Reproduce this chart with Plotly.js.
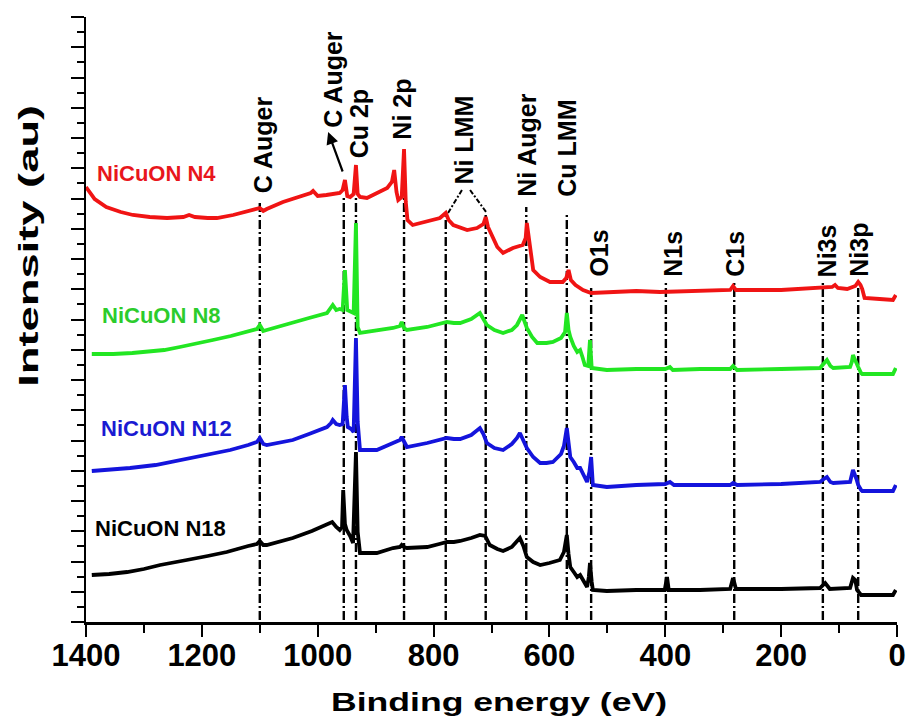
<!DOCTYPE html>
<html>
<head>
<meta charset="utf-8">
<title>XPS survey spectra of NiCuON films</title>
<script src="https://cdn.plot.ly/plotly-3.0.1.min.js"></script>
<style>
  html, body { margin: 0; padding: 0; background: #fff; }
  #chart { width: 910px; height: 720px; }
</style>
</head>
<body>
<div id="chart"></div>
<script>
// ---- Survey spectra: binding energy (eV) and stacked intensity (a.u.) ----
const energyN4 = [
  1400, 1385, 1365, 1340, 1319, 1290, 1260, 1232, 1222, 1212,
  1190, 1174, 1146, 1120, 1100, 1094, 1088, 1060, 1030, 1012,
  1008, 1000, 985, 962, 957, 953, 949, 944, 938, 934,
  931, 927, 915, 900, 880, 872, 868, 864, 861, 855,
  851, 848, 845, 836, 810, 789, 779, 774, 766, 742,
  725, 714, 710, 706, 698, 690, 680, 663, 646, 641,
  639, 636, 633, 628, 616, 599, 577, 571, 567, 563,
  555, 542, 528, 500, 450, 409, 350, 288, 283, 278,
  200, 133, 112, 107, 102, 86, 72, 67, 63, 60,
  56, 30, 7, 2
];
const intensityN4 = [
  435, 423, 415, 410, 407, 405, 404, 405, 407, 405,
  404, 404, 407, 411, 414, 411, 413, 420, 426, 429,
  431, 426, 427, 429, 432, 442, 426, 425, 428, 457,
  428, 425, 424, 428, 434, 440, 452, 430, 422, 425,
  473, 420, 402, 397, 401, 404, 409, 402, 397, 392,
  394, 398, 405, 395, 385, 375, 369, 374, 377, 384,
  399, 385, 370, 352, 345, 340, 340, 344, 352, 342,
  337, 332, 329, 330, 331, 330, 331, 332, 336, 332,
  332, 334, 335, 337, 334, 333, 336, 340, 337, 333,
  324, 323, 322, 327
];

const energyN8 = [
  1390, 1353, 1320, 1295, 1265, 1238, 1210, 1181, 1150, 1122,
  1105, 1100, 1094, 1088, 1065, 1043, 1015, 984, 977, 974,
  968, 962, 957, 953, 949, 944, 938, 934, 931, 927,
  915, 895, 870, 858, 855, 851, 846, 811, 790, 777,
  765, 754, 735, 720, 714, 708, 695, 680, 665, 656,
  647, 643, 639, 630, 621, 605, 594, 580, 573, 570,
  567, 564, 558, 552, 547, 543, 539, 533, 530, 527,
  515, 501, 450, 400, 392, 387, 340, 288, 283, 276,
  200, 133, 124, 121, 115, 110, 81, 78, 76, 70,
  67, 62, 60, 30, 7, 2
];
const intensityN8 = [
  268, 268, 269, 270, 272, 275, 278, 282, 286, 290,
  293, 297, 291, 292, 296, 299, 304, 309, 314, 317,
  312, 313, 312, 352, 312, 311, 309, 399, 295, 289,
  290, 292, 294, 296, 300, 294, 292, 295, 298, 300,
  299, 299, 303, 309, 303, 297, 292, 289, 292, 297,
  307, 300, 294, 285, 279, 279, 280, 284, 290, 309,
  292, 285, 276, 270, 272, 265, 257, 256, 282, 254,
  253, 252, 253, 253, 255, 252, 253, 253, 256, 252,
  253, 254, 260, 262, 256, 254, 255, 260, 267, 258,
  255, 249, 248, 248, 248, 254
];

const energyN12 = [
  1390, 1360, 1324, 1280, 1238, 1195, 1151, 1120, 1105, 1100,
  1094, 1088, 1065, 1043, 1015, 984, 977, 974, 968, 962,
  957, 953, 950, 948, 942, 938, 934, 931, 927, 915,
  898, 870, 858, 855, 851, 846, 811, 790, 777, 765,
  754, 735, 720, 714, 708, 695, 680, 665, 656, 651,
  645, 639, 628, 616, 605, 594, 580, 575, 570, 567,
  564, 558, 552, 547, 541, 535, 531, 528, 525, 515,
  501, 450, 400, 392, 385, 340, 288, 283, 276, 200,
  133, 124, 121, 115, 110, 81, 78, 76, 70, 67,
  62, 60, 30, 7, 2
];
const intensityN12 = [
  151, 152, 154, 157, 162, 167, 172, 177, 180, 184,
  178, 177, 180, 182, 188, 195, 199, 202, 198, 197,
  198, 237, 205, 195, 193, 190, 284, 200, 172, 172,
  172, 179, 182, 185, 180, 175, 179, 182, 184, 183,
  183, 187, 194, 188, 179, 174, 172, 178, 184, 189,
  182, 174, 165, 159, 159, 160, 168, 176, 194, 175,
  165, 160, 154, 154, 147, 140, 150, 165, 137, 136,
  135, 137, 138, 140, 137, 137, 137, 139, 137, 138,
  140, 144, 145, 140, 139, 140, 146, 152, 143, 137,
  132, 131, 131, 131, 137
];

const energyN18 = [
  1390, 1360, 1329, 1300, 1272, 1250, 1226, 1190, 1157, 1120,
  1105, 1100, 1094, 1088, 1065, 1043, 1010, 985, 975, 968,
  962, 958, 956, 953, 950, 944, 939, 934, 931, 927,
  915, 898, 870, 858, 855, 851, 846, 811, 790, 777,
  765, 754, 735, 720, 711, 706, 703, 690, 680, 665,
  656, 651, 645, 639, 628, 616, 600, 582, 575, 570,
  567, 564, 558, 552, 547, 541, 535, 532, 530, 527,
  525, 501, 450, 401, 397, 394, 340, 288, 285, 283,
  278, 200, 133, 126, 124, 116, 81, 78, 76, 72,
  69, 62, 30, 7, 2
];
const intensityN18 = [
  47, 48, 50, 53, 57, 59, 62, 66, 70, 76,
  78, 81, 77, 77, 81, 84, 91, 97, 100, 95,
  92, 95, 132, 98, 92, 86, 79, 170, 90, 69,
  69, 69, 74, 75, 77, 75, 74, 75, 78, 80,
  80, 81, 84, 87, 86, 80, 77, 73, 71, 75,
  80, 84, 76, 65, 60, 57, 59, 62, 70, 87,
  68, 55, 50, 45, 47, 41, 35, 45, 59, 40,
  32, 31, 32, 32, 45, 32, 32, 33, 40, 44,
  33, 33, 34, 37, 39, 33, 34, 40, 44, 42,
  32, 27, 27, 27, 32
];

// ---- Sample names ----
const sampleNames = ['NiCuON N4', 'NiCuON N8', 'NiCuON N12', 'NiCuON N18'];
const sampleNameEnergy = [1381, 1372, 1374, 1384];
const sampleNameIntensity = [449, 307, 194, 94];

// ---- Peak assignments (vertical text) ----
const peakNames = ['C Auger', 'C Auger', 'Cu 2p', 'Ni 2p', 'Ni LMM', 'Ni Auger', 'Cu LMM',
                   'O1s', 'N1s', 'C1s', 'Ni3s', 'Ni3p'];
const peakNameEnergy = [1095, 975, 929, 856, 749, 639, 571, 516, 387, 280, 121, 66];
const peakNameBase = [429, 494, 464, 482, 437, 425, 425, 345, 345, 345, 345, 345];

// ---- Dash-dot marker lines at the assigned binding energies ----
const markerEnergy = [1100, 955, 934, 851, 779, 710, 640, 570, 528, 399, 281, 128, 67];
const markerTop = [422, 425, 424, 425, 409, 407, 415, 410, 337, 342, 339, 340, 342];

// Ni LMM label splits into two leaders towards 779 and 710 eV
const leaderFromE = [775, 737];
const leaderFromI = [409, 432];
const leaderToE = [751, 708];
const leaderToI = [432, 409];

// arrow from the second C Auger label down to its line
const arrowHead = [982, 490];
const arrowTail = [956, 449];

// ---- Styles ----
const FONT = 'Liberation Sans, Arial, Helvetica, sans-serif';
const lineColors = ['#f01414', '#22e622', '#1414dc', '#000000'];
const nameColors = ['#e8161c', '#2ccc2c', '#1a1ad2', '#000000'];

const series = [
  [energyN4, intensityN4],
  [energyN8, intensityN8],
  [energyN12, intensityN12],
  [energyN18, intensityN18]
];

const traces = series.map(function (s, i) {
  return {
    type: 'scatter',
    mode: 'lines',
    x: s[0],
    y: s[1],
    name: sampleNames[i],
    line: { color: lineColors[i], width: 3.8, shape: 'linear' },
    hoverinfo: 'skip'
  };
});

const shapes = markerEnergy.map(function (e, i) {
  return {
    type: 'line', xref: 'x', yref: 'y', layer: 'below',
    x0: e, x1: e, y0: 2, y1: markerTop[i],
    line: { color: '#000', width: 2.4, dash: '9px,3px,2px,3px' }
  };
}).concat(leaderFromE.map(function (e, i) {
  return {
    type: 'line', xref: 'x', yref: 'y', layer: 'below',
    x0: e, y0: leaderFromI[i], x1: leaderToE[i], y1: leaderToI[i],
    line: { color: '#000', width: 2, dash: '5px,2px,2px,2px' }
  };
}));

const annotations = [];
sampleNames.forEach(function (n, i) {
  annotations.push({
    text: n, xref: 'x', yref: 'y', x: sampleNameEnergy[i], y: sampleNameIntensity[i],
    xanchor: 'left', yanchor: 'middle', showarrow: false,
    borderpad: 0, borderwidth: 0,
    font: { family: FONT, size: 22, weight: 'bold', color: nameColors[i] }
  });
});
peakNames.forEach(function (n, i) {
  annotations.push({
    text: n, xref: 'x', yref: 'y', x: peakNameEnergy[i], y: peakNameBase[i],
    textangle: -90, xanchor: 'center', yanchor: 'bottom', showarrow: false,
    borderpad: 0, borderwidth: 0,
    font: { family: FONT, size: 25, weight: 'bold', color: '#000' }
  });
});
annotations.push({
  text: '', xref: 'x', yref: 'y', axref: 'x', ayref: 'y',
  x: arrowHead[0], y: arrowHead[1], ax: arrowTail[0], ay: arrowTail[1],
  showarrow: true, arrowhead: 2, arrowsize: 1.1, arrowwidth: 2.2, arrowcolor: '#000',
  standoff: 0, startstandoff: 0
});
// y-axis caption, placed a little above the centre of the axis
annotations.push({
  text: 'Intensity (au)', xref: 'paper', yref: 'paper', x: -0.0703, y: 0.6215,
  textangle: -90, xanchor: 'center', yanchor: 'middle', showarrow: false,
  borderpad: 0, borderwidth: 0,
  font: { family: FONT, size: 28, weight: 'bold', color: '#000' }
});

const layout = {
  width: 910,
  height: 720,
  margin: { l: 86, r: 13, t: 17, b: 98 },
  paper_bgcolor: '#fff',
  plot_bgcolor: '#fff',
  showlegend: false,
  font: { family: FONT, color: '#000' },
  xaxis: {
    range: [1400, 0],
    tick0: 0, dtick: 200,
    ticks: 'outside', ticklen: 12, tickwidth: 2, tickcolor: '#000',
    ticklabelstandoff: -8,
    showline: true, linewidth: 2.5, linecolor: '#000',
    showgrid: false, zeroline: false,
    tickfont: { family: FONT, size: 31, weight: 'bold', color: '#000' },
    minor: { dtick: 100, ticks: 'outside', ticklen: 8, tickwidth: 2, tickcolor: '#000', showgrid: false },
    title: { text: 'Binding energy (eV)', standoff: 22,
             font: { family: FONT, size: 25.5, weight: 'bold', color: '#000' } },
    automargin: false
  },
  yaxis: {
    range: [0, 605],
    tick0: 0, dtick: 30.25,
    ticks: 'outside', ticklen: 13, tickwidth: 2, tickcolor: '#000',
    showticklabels: false,
    showline: true, linewidth: 2.5, linecolor: '#000',
    showgrid: false, zeroline: false,
    minor: { dtick: 15.125, ticks: 'outside', ticklen: 7, tickwidth: 2, tickcolor: '#000', showgrid: false },
    automargin: false
  },
  shapes: shapes,
  annotations: annotations
};

const gd = document.getElementById('chart');
Plotly.newPlot(gd, traces, layout, { staticPlot: true, displayModeBar: false }).then(function () {
  // the axis captions are set in an extended bold face
  const xt = gd.querySelector('.xtitle');
  if (xt) {
    xt.setAttribute('x', 499);
    xt.setAttribute('textLength', 336);
    xt.setAttribute('lengthAdjust', 'spacingAndGlyphs');
  }
  gd.querySelectorAll('.annotation-text').forEach(function (t) {
    if (t.textContent === 'Intensity (au)') {
      t.setAttribute('textLength', 282);
      t.setAttribute('lengthAdjust', 'spacingAndGlyphs');
    }
  });
});
</script>
</body>
</html>
